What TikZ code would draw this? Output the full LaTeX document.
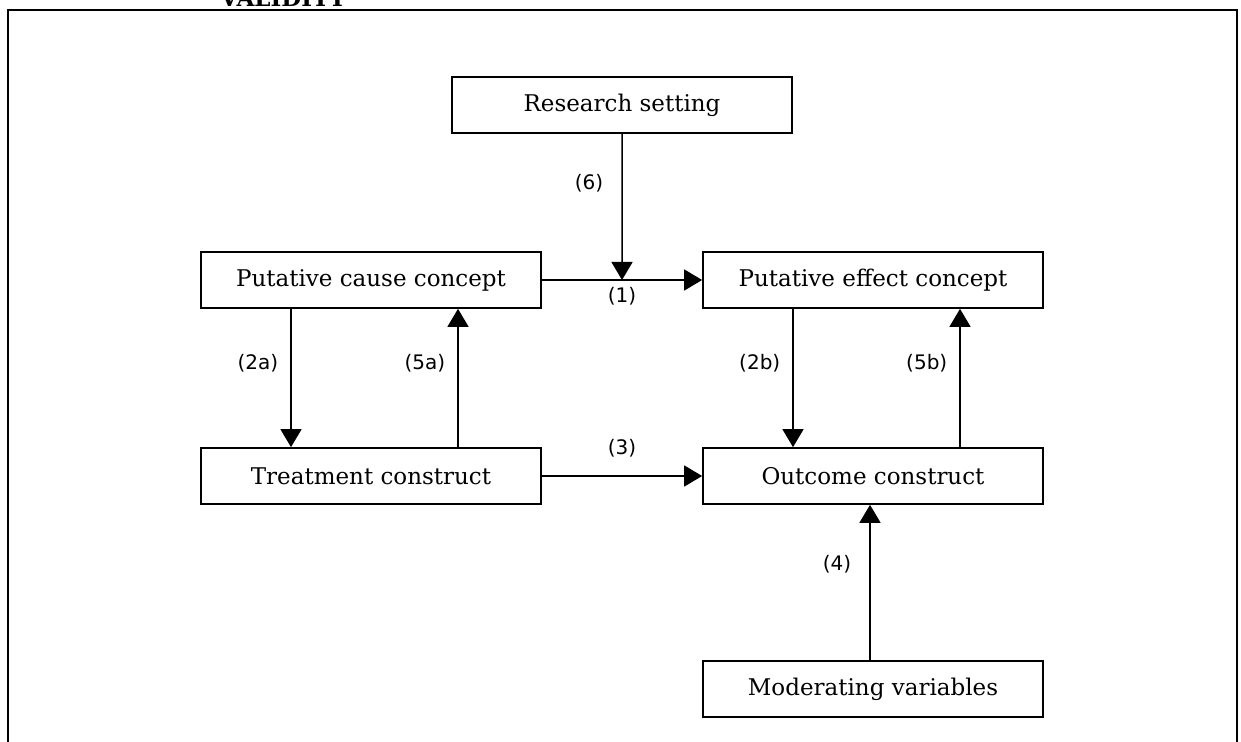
\documentclass[tikz,border=0pt]{standalone}
\usepackage{fontspec}
\setmainfont{DejaVu Serif}
\newfontfamily\labelfont{DejaVu Sans}
\usetikzlibrary{arrows.meta,calc,positioning}
\tikzset{
  concept/.style={draw, line width=0.85pt, minimum width=170pt, minimum height=28pt,
    inner sep=0pt, font=\fontsize{11.5}{13}\selectfont},
  link/.style={line width=0.75pt, -{Triangle[length=9pt,width=10.5pt]}},
  tag/.style={font=\labelfont\fontsize{10}{12}\selectfont, inner sep=2pt},
}
\begin{document}
\begin{tikzpicture}[x=0.5pt,y=-0.5pt]
  \useasboundingbox (0,0) rectangle (1241,742);
  \def\dl{40pt}
  \def\dr{43.5pt}
  % frame, open at the bottom
  \draw[line width=1.1pt] (8,760) -- (8,10) -- (1237,10) -- (1237,760);
  \node[font=\bfseries\fontsize{11.5}{13}\selectfont, anchor=base] (title) at (283,7) {VALIDITY};

  \node[concept] (setting) at (622,105) {Research setting};
  \node[concept] (cause) at (371,280) {Putative cause concept};
  \node[concept] (effect) at (873,280) {Putative effect concept};
  \node[concept] (treat) at (371,476) {Treatment construct};
  \node[concept] (outcome) at (873,476) {Outcome construct};
  \node[concept] (moder) at (873,689) {Moderating variables};

  \coordinate (m1) at ($(cause.east)!0.5!(effect.west)$);
  \draw[link] (cause) -- (effect) node[tag, midway, below=1.5pt] {(1)};
  \draw[link] (setting) -- (m1) node[tag, pos=0.34, left=7pt] {(6)};

  \draw[link] ([xshift=-\dl]cause.south) -- ([xshift=-\dl]treat.north)
    node[tag, pos=0.39, left=4pt] {(2a)};
  \draw[link] ([xshift=\dr]treat.north) -- ([xshift=\dr]cause.south)
    node[tag, pos=0.61, left=4pt] {(5a)};
  \draw[link] ([xshift=-\dl]effect.south) -- ([xshift=-\dl]outcome.north)
    node[tag, pos=0.39, left=4pt] {(2b)};
  \draw[link] ([xshift=\dr]outcome.north) -- ([xshift=\dr]effect.south)
    node[tag, pos=0.61, left=4pt] {(5b)};

  \draw[link] (treat) -- (outcome) node[tag, midway, above=7pt] {(3)};
  \draw[link] ([xshift=-1.5pt]moder.north) -- ([xshift=-1.5pt]outcome.south)
    node[tag, pos=0.62, left=7pt] {(4)};
\end{tikzpicture}
\end{document}
